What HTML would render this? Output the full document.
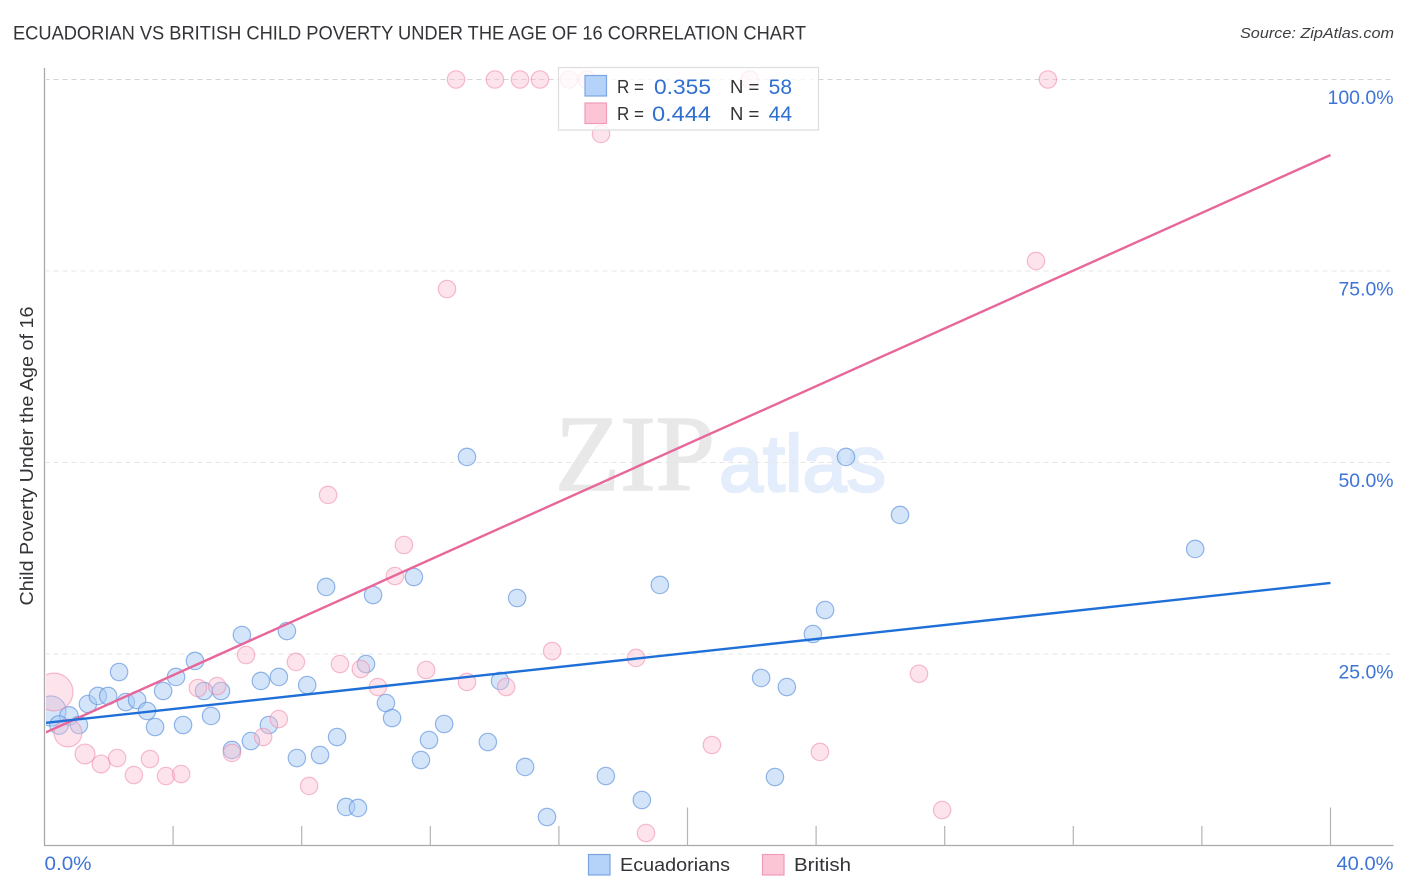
<!DOCTYPE html>
<html lang="en">
<head>
<meta charset="utf-8">
<title>Ecuadorian vs British Child Poverty Under the Age of 16 Correlation Chart</title>
<style>
html,body{margin:0;padding:0;background:#fff;}
body{width:1406px;height:892px;overflow:hidden;font-family:"Liberation Sans",sans-serif;}
svg{display:block;}
text{font-family:"Liberation Sans",sans-serif;}
</style>
</head>
<body>
<svg id="chart" xmlns="http://www.w3.org/2000/svg" width="1406" height="892" viewBox="0 0 1406 892">
  <defs>
    <clipPath id="plot-clip"><rect x="46" y="60" width="1300" height="785"/></clipPath>
  </defs>
  <text x="13" y="39.5" font-size="19.4" fill="#333338" textLength="793" lengthAdjust="spacingAndGlyphs">ECUADORIAN VS BRITISH CHILD POVERTY UNDER THE AGE OF 16 CORRELATION CHART</text>
  <text x="1394" y="38" font-size="15" font-style="italic" fill="#3d3d42" text-anchor="end" textLength="154" lengthAdjust="spacingAndGlyphs">Source: ZipAtlas.com</text>
  <g>
    <text x="555" y="490" font-size="108" fill="#e8e8e8" stroke="#e8e8e8" stroke-width="1.6" style="font-family:'Liberation Serif',serif" textLength="160" lengthAdjust="spacingAndGlyphs">ZIP</text>
    <text x="719" y="491" font-size="80" fill="#e3edfb" stroke="#e3edfb" stroke-width="2.4" textLength="167" lengthAdjust="spacingAndGlyphs">atlas</text>
  </g>
  <g id="grid"></g>
  <g id="series" clip-path="url(#plot-clip)"></g>
  <rect x="0" y="60" width="46" height="790" fill="#ffffff"/>
  <g id="axes"></g>
  <text transform="translate(33,456) rotate(-90)" font-size="18.5" fill="#333338" text-anchor="middle" textLength="299" lengthAdjust="spacingAndGlyphs">Child Poverty Under the Age of 16</text>
  <g>
    <rect x="558.5" y="67.5" width="260" height="62.5" fill="#ffffff" fill-opacity="0.78" stroke="#dddddd" stroke-width="1.2"/>
    <rect x="585" y="75.5" width="21.5" height="20.5" fill="#b5d2f8" stroke="#7ba5e0" stroke-width="1.2"/>
    <rect x="585" y="103" width="21.5" height="20.5" fill="#fcc5d6" stroke="#f09db8" stroke-width="1.2"/>
    <text x="617" y="93" font-size="18.5" fill="#333338" textLength="27" lengthAdjust="spacingAndGlyphs">R =</text>
    <text x="711" y="94" font-size="21" fill="#2f6fd0" text-anchor="end" textLength="57" lengthAdjust="spacingAndGlyphs">0.355</text>
    <text x="730" y="93" font-size="18.5" fill="#333338">N =</text>
    <text x="792" y="94" font-size="21" fill="#2f6fd0" text-anchor="end">58</text>
    <text x="617" y="120" font-size="18.5" fill="#333338" textLength="27" lengthAdjust="spacingAndGlyphs">R =</text>
    <text x="711" y="121" font-size="21" fill="#2f6fd0" text-anchor="end" textLength="59" lengthAdjust="spacingAndGlyphs">0.444</text>
    <text x="730" y="120" font-size="18.5" fill="#333338">N =</text>
    <text x="792" y="121" font-size="21" fill="#2f6fd0" text-anchor="end">44</text>
  </g>
  <g>
    <rect x="588.5" y="854.5" width="21.5" height="20.5" fill="#b5d2f8" stroke="#7ba5e0" stroke-width="1.2"/>
    <text x="620" y="871" font-size="18.5" fill="#333338" textLength="110" lengthAdjust="spacingAndGlyphs">Ecuadorians</text>
    <rect x="762.5" y="854.5" width="21.5" height="20.5" fill="#fcc5d6" stroke="#f09db8" stroke-width="1.2"/>
    <text x="794" y="871" font-size="18.5" fill="#333338" textLength="57" lengthAdjust="spacingAndGlyphs">British</text>
  </g>
</svg>
<script>
const xTicks = [0, 4, 8, 12, 16, 20, 24, 28, 32, 36, 40];
const xMajorTicks = [0, 20, 40];
const xEdgeLabels = [0, 40];
const yTicks = [25, 50, 75, 100];

const ecuadorianX = [0.20,0.76,0.45,1.07,1.35,1.66,1.98,2.32,2.53,2.88,3.19,3.44,3.69,4.09,4.31,4.68,4.96,5.18,5.49,5.83,6.14,6.42,6.73,6.98,7.29,7.54,7.85,8.17,8.57,8.76,9.10,9.38,9.75,10.00,10.22,10.62,10.81,11.49,11.71,11.96,12.43,13.14,13.79,14.17,14.70,14.95,15.63,17.46,18.58,19.14,22.29,22.72,23.09,23.90,24.28,24.93,26.61,35.79];
const ecuadorianY = [17.56,16.91,15.73,15.73,18.47,19.52,19.52,22.65,18.73,18.99,17.56,15.47,20.17,22.00,15.73,24.09,20.17,16.91,20.17,12.47,27.48,13.64,21.48,15.73,22.00,28.00,11.42,20.95,11.81,33.75,14.16,5.03,4.90,23.69,32.70,18.60,16.64,35.05,11.16,13.77,15.86,50.72,13.51,21.48,32.31,10.25,3.72,9.07,5.94,34.01,21.87,8.94,20.69,27.61,30.74,50.72,43.15,38.71];
const ecuadorianWeight = [3.0,1.15,1.15,1,1,1,1,1,1,1,1,1,1,1,1,1,1,1,1,1,1,1,1,1,1,1,1,1,1,1,1,1,1,1,1,1,1,1,1,1,1,1,1,1,1,1,1,1,1,1,1,1,1,1,1,1,1,1];
const ecuadorianTrend = [15.99, 34.27];

const britishX = [0.30,0.73,1.26,1.76,2.26,2.78,3.28,3.78,4.25,4.77,5.37,5.83,6.27,6.80,7.29,7.82,8.23,8.82,9.19,9.84,10.37,10.90,11.18,11.87,12.52,12.80,13.14,14.01,14.36,14.79,15.41,15.79,16.31,16.87,17.31,18.40,18.71,20.76,21.94,24.12,27.20,27.92,30.84,31.21];
const britishY = [20.04,14.69,11.95,10.64,11.42,9.20,11.29,9.07,9.33,20.56,20.82,12.08,24.87,14.16,16.51,23.96,7.77,45.76,23.69,23.04,20.69,35.18,39.23,22.91,72.65,100,21.35,100,20.69,100,100,25.39,100,100,92.89,24.48,1.63,13.12,100,12.21,22.42,4.63,76.31,100];
const britishWeight = [4.7,2.55,1.3,1.05,1,1,1,1,1,1,1,1,1,1,1,1,1,1,1,1,1,1,1,1,1,1,1,1,1,1,1,1,1,1,1,1,1,1,1,1,1,1,1,1];
const britishTrend = [14.69, 90.14];

const xDomainMax = 40;
const yDomainMax = 100;
const SVG_NS = 'http://www.w3.org/2000/svg';

function xScale(v) { return 44.5 + (v / xDomainMax) * 1286; }
function yScale(v) { return 845.5 - (v / yDomainMax) * 766; }
function radius(w) { return 8.7 * Math.sqrt(w); }
function make(tag, attrs) {
  const el = document.createElementNS(SVG_NS, tag);
  for (const k in attrs) el.setAttribute(k, attrs[k]);
  return el;
}

const grid = document.getElementById('grid');
const axes = document.getElementById('axes');
const series = document.getElementById('series');

yTicks.forEach(function (t) {
  const line = make('line', {
    x1: 44.5, x2: 1393, y1: yScale(t), y2: yScale(t),
    stroke: t === 100 ? '#d4d4d4' : '#e6e6e6', 'stroke-width': 1.1, 'stroke-dasharray': '5 4'
  });
  
  
  grid.appendChild(line);
  const label = make('text', {
    x: 1393.5, y: yScale(t) + 24.5, 'font-size': 19.2, fill: '#3d74d6', 'text-anchor': 'end',
    textLength: t === 100 ? 66 : 55, lengthAdjust: 'spacingAndGlyphs'
  });
  label.textContent = t.toFixed(1) + '%';
  
  
  axes.appendChild(label);
});

const yAxis = make('line', { x1: 44.5, x2: 44.5, y1: 68, y2: 846, stroke: '#aaaaaa', 'stroke-width': 1.3 });


axes.appendChild(yAxis);
const xAxis = make('line', { x1: 44, x2: 1393.5, y1: 845.5, y2: 845.5, stroke: '#aaaaaa', 'stroke-width': 1.3 });


axes.appendChild(xAxis);

xTicks.forEach(function (t) {
  if (t === 0) return;
  const major = xMajorTicks.indexOf(t) !== -1;
  const tick = make('line', {
    x1: xScale(t), x2: xScale(t), y1: major ? 807.5 : 826, y2: 845.5, stroke: '#b4b4b4', 'stroke-width': 1.2
  });
  
  
  axes.appendChild(tick);
});

xEdgeLabels.forEach(function (t) {
  const first = t === xEdgeLabels[0];
  const label = make('text', {
    x: first ? 44.5 : 1393.5, y: 870, 'font-size': 19.2, fill: '#3d74d6', 'text-anchor': first ? 'start' : 'end',
    textLength: first ? 47 : 57, lengthAdjust: 'spacingAndGlyphs'
  });
  label.textContent = t.toFixed(1) + '%';
  
  
  axes.appendChild(label);
});

ecuadorianX.forEach(function (v, i) {
  const c = make('circle', {
    cx: xScale(v), cy: yScale(ecuadorianY[i]), r: radius(ecuadorianWeight[i]),
    fill: '#a9cbf6', 'fill-opacity': 0.5, stroke: '#5b90dc', 'stroke-opacity': 0.65, 'stroke-width': 1.2
  });
  
  
  series.appendChild(c);
});

britishX.forEach(function (v, i) {
  const c = make('circle', {
    cx: xScale(v), cy: yScale(britishY[i]), r: radius(britishWeight[i]),
    fill: '#fbbdd0', 'fill-opacity': 0.42, stroke: '#ee86a8', 'stroke-opacity': 0.55, 'stroke-width': 1.2
  });
  
  
  series.appendChild(c);
});

const britishLine = make('line', {
  x1: xScale(0), y1: yScale(britishTrend[0]), x2: xScale(xDomainMax), y2: yScale(britishTrend[1]),
  stroke: '#e8679a', 'stroke-width': 2.4
});


series.appendChild(britishLine);

const ecuadorianLine = make('line', {
  x1: xScale(0), y1: yScale(ecuadorianTrend[0]), x2: xScale(xDomainMax), y2: yScale(ecuadorianTrend[1]),
  stroke: '#1f6fd8', 'stroke-width': 2.4
});


series.appendChild(ecuadorianLine);
</script>
</body>
</html>
